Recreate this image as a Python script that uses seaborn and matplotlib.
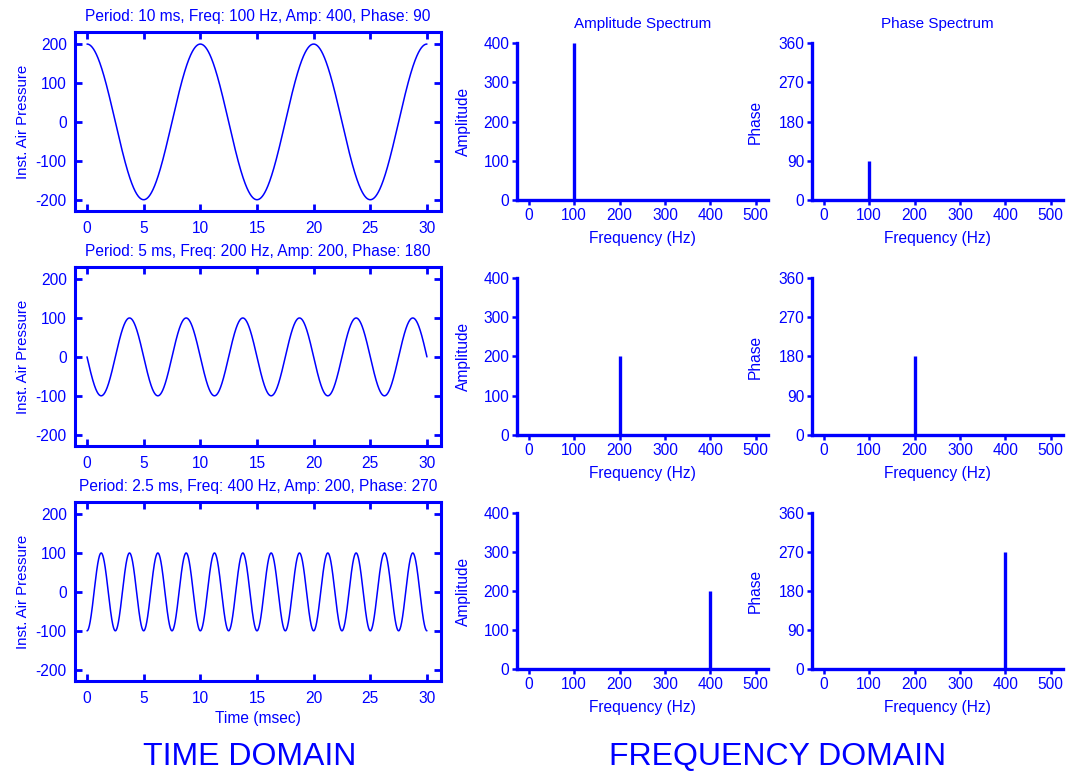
import numpy as np
import pandas as pd
import matplotlib
matplotlib.use("Agg")
import matplotlib.pyplot as plt
import seaborn as sns

# ---- data ----
periods_ms = [10, 5, 2.5]
freqs_hz = [100, 200, 400]
amps = [400, 200, 200]          # spectrum amplitude (peak-to-peak)
phases_deg = [90, 180, 270]

time_ticks = [0, 5, 10, 15, 20, 25, 30]
pressure_ticks = [-200, -100, 0, 100, 200]
freq_ticks = [0, 100, 200, 300, 400, 500]
amp_ticks = [0, 100, 200, 300, 400]
phase_ticks = [0, 90, 180, 270, 360]

BLUE = "#0000ff"
sns.set_theme(style="ticks")
plt.rcParams["font.family"] = ["Liberation Sans", "DejaVu Sans"]
plt.rcParams["axes.unicode_minus"] = False
plt.rcParams["text.color"] = BLUE
plt.rcParams["axes.labelcolor"] = BLUE
plt.rcParams["xtick.color"] = BLUE
plt.rcParams["ytick.color"] = BLUE
plt.rcParams["axes.edgecolor"] = BLUE

W, H = 1067, 773
fig = plt.figure(figsize=(W / 100, H / 100), dpi=100)

def frac(left, top, right, bottom):
    return [left / W, 1 - bottom / H, (right - left) / W, (bottom - top) / H]

time_rows = [(32, 211), (267, 446), (502, 681)]
freq_rows = [(43, 200), (278, 435), (513, 669)]

t = np.linspace(0, 30, 3000)
FS = 11.2

for i in range(3):
    # ---- time domain ----
    top, bot = time_rows[i]
    ax = fig.add_axes(frac(75, top, 441, bot))
    y = (amps[i] / 2) * np.sin(2 * np.pi * freqs_hz[i] * t / 1000 + np.deg2rad(phases_deg[i]))
    df = pd.DataFrame({"t": t, "y": y})
    sns.lineplot(data=df, x="t", y="y", ax=ax, color=BLUE, linewidth=1.1)
    ax.set_xlim(-1.06, 31.24)
    ax.set_ylim(-229, 231)
    ax.set_xticks(time_ticks)
    ax.set_yticks(pressure_ticks)
    ax.tick_params(direction="in", length=5, width=2, top=True, right=True,
                   labelsize=FS, colors=BLUE)
    ax.tick_params(axis="x", pad=7)
    ax.tick_params(axis="y", pad=6)
    for s in ax.spines.values():
        s.set_linewidth(2.2)
        s.set_color(BLUE)
    ax.set_ylabel("Inst. Air Pressure", fontsize=FS - 0.4, labelpad=4)
    ax.set_xlabel("Time (msec)" if i == 2 else "", fontsize=FS, labelpad=4)
    ax.set_title(f"Period: {periods_ms[i]:g} ms, Freq: {freqs_hz[i]} Hz, "
                 f"Amp: {amps[i]}, Phase: {phases_deg[i]}",
                 fontsize=FS, color=BLUE, pad=8)

    # ---- spectra ----
    top, bot = freq_rows[i]
    for col, (left, right, vals, ticks, lab, ttl) in enumerate([
            (517, 768, amps, amp_ticks, "Amplitude", "Amplitude Spectrum"),
            (812, 1063, phases_deg, phase_ticks, "Phase", "Phase Spectrum")]):
        axf = fig.add_axes(frac(left, top, right, bot))
        axf.vlines([freqs_hz[i]], 0, [vals[i]], color=BLUE, linewidth=2.4)
        axf.set_xlim(-26, 527)
        axf.set_ylim(0, ticks[-1])
        axf.set_xticks(freq_ticks)
        axf.set_yticks(ticks)
        axf.tick_params(direction="out", length=3.5, width=1.8, labelsize=FS,
                        pad=2, colors=BLUE)
        sns.despine(ax=axf)
        for s in ("left", "bottom"):
            axf.spines[s].set_linewidth(2.4)
            axf.spines[s].set_color(BLUE)
        axf.set_ylabel(lab, fontsize=FS, labelpad=9 if col == 0 else 11)
        axf.set_xlabel("Frequency (Hz)", fontsize=FS, labelpad=6)
        if i == 0:
            axf.set_title(ttl, fontsize=FS - 0.2, color=BLUE, pad=11)

fig.text(250 / W, 1 - 757 / H, "TIME DOMAIN", fontsize=23, color=BLUE,
         ha="center", va="center")
fig.text(778 / W, 1 - 757 / H, "FREQUENCY DOMAIN", fontsize=23, color=BLUE,
         ha="center", va="center")

fig.savefig("out.png", dpi=100, facecolor="white")
